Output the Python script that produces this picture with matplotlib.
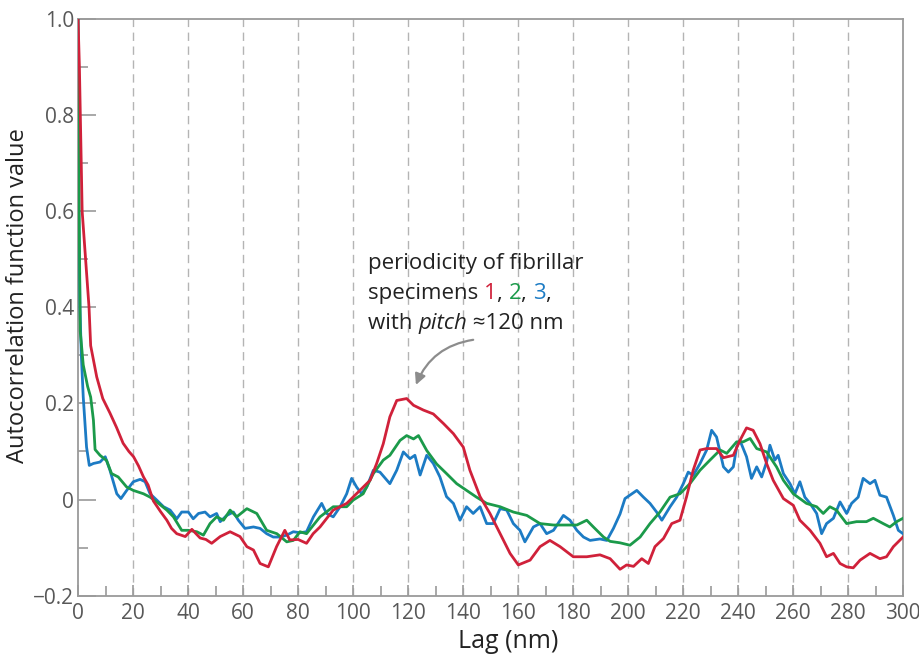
import numpy as np
import matplotlib
matplotlib.use("Agg")
import matplotlib.pyplot as plt
from matplotlib.offsetbox import TextArea, HPacker, VPacker, AnnotationBbox

plt.rcParams['font.family'] = ['Open Sans', 'DejaVu Sans']

# lag (nm) / autocorrelation values
red_x = [0, 0.5, 1, 1.5, 2.5, 4, 4.6, 6.8, 9, 11.6, 14, 16.4, 18.5, 20.2, 22, 23.8, 25.5, 27.4,
         30, 32.3, 34, 35.9, 39, 41.4, 44.4, 46.5, 48.6, 51.7, 55.3, 58.9, 61.4, 63.8, 66.2,
         69.2, 72.2, 75.2, 77, 80, 83.1, 85.5, 88, 92.8, 97.7, 102.5, 106.2, 108.6, 111,
         113.4, 115.9, 119.5, 122, 125.6, 129.2, 132.9, 136.5, 140.1, 142.5, 146.2, 149.8,
         153.5, 157.1, 160.1, 164.4, 168, 171.6, 175.3, 180.1, 185, 189.8, 193.5, 197.1,
         199.5, 202, 205, 207.4, 209.8, 212.9, 215.9, 218.9, 221.3, 223.7, 226.2, 228.6,
         232.2, 234.7, 238.3, 240.7, 243.1, 245.5, 248, 250.4, 252.8, 256.5, 260.1, 262.5,
         266.2, 269.8, 272.2, 274.7, 277.1, 279.5, 281.9, 284.4, 288, 291.6, 294, 296.5, 300]
red_y = [1.0, 0.9, 0.75, 0.6, 0.52, 0.40, 0.32, 0.255, 0.21, 0.18, 0.15, 0.117, 0.10, 0.089,
         0.07, 0.047, 0.03, -0.003, -0.025, -0.043, -0.06, -0.071, -0.077, -0.062, -0.08,
         -0.083, -0.091, -0.077, -0.067, -0.077, -0.098, -0.105, -0.133, -0.14, -0.098,
         -0.064, -0.084, -0.083, -0.091, -0.071, -0.057, -0.022, -0.008, 0.019, 0.040, 0.075,
         0.116, 0.172, 0.206, 0.210, 0.196, 0.186, 0.178, 0.158, 0.137, 0.109, 0.061, 0.006,
         -0.029, -0.071, -0.112, -0.136, -0.126, -0.098, -0.085, -0.098, -0.119, -0.119,
         -0.115, -0.123, -0.145, -0.136, -0.139, -0.123, -0.133, -0.098, -0.081, -0.050,
         -0.043, 0.006, 0.061, 0.103, 0.106, 0.106, 0.087, 0.092, 0.123, 0.149, 0.144, 0.116,
         0.075, 0.040, 0.002, -0.012, -0.043, -0.064, -0.091, -0.119, -0.112, -0.133, -0.140,
         -0.142, -0.126, -0.112, -0.123, -0.119, -0.098, -0.078]

green_x = [0, 0.4, 0.8, 1.9, 3.5, 4.6, 5.6, 6.2, 8, 10.4, 12.2, 14.6, 17.7, 20.1, 23.8, 26.2,
           28.6, 32.3, 34.7, 37.7, 40.1, 43.2, 45.6, 48, 50.4, 52.9, 55.3, 57.7, 61.4, 65,
           68.6, 72.3, 75.9, 78.3, 80.7, 83.1, 88, 92.8, 97.7, 100.1, 103.7, 107.4, 111,
           113.4, 117.1, 119.5, 122, 123.8, 126.8, 130.4, 134, 137.7, 141.3, 144.9, 148.6,
           153.5, 158.3, 163.2, 168, 172.9, 177.7, 181.4, 185, 187.4, 191.1, 193.5, 197.1,
           200.7, 204.4, 208, 211.6, 215.3, 218.9, 222.5, 226.2, 229.8, 233.5, 235.9, 239.5,
           241.9, 244.4, 246.8, 250.4, 254, 256.5, 260.1, 264.9, 268.6, 271, 273.4, 275.8,
           279.5, 283.1, 286.7, 289.2, 292.8, 295.2, 297.7, 300]
green_y = [1.0, 0.6, 0.35, 0.28, 0.235, 0.213, 0.165, 0.104, 0.092, 0.081, 0.054, 0.047,
           0.026, 0.019, 0.012, 0.005, -0.005, -0.022, -0.036, -0.064, -0.064, -0.067, -0.074,
           -0.050, -0.036, -0.043, -0.022, -0.036, -0.019, -0.029, -0.064, -0.071, -0.088,
           -0.085, -0.067, -0.071, -0.036, -0.015, -0.015, -0.001, 0.012, 0.054, 0.082, 0.092,
           0.123, 0.133, 0.126, 0.133, 0.102, 0.074, 0.054, 0.033, 0.019, 0.005, -0.008,
           -0.015, -0.026, -0.033, -0.050, -0.053, -0.053, -0.053, -0.043, -0.057, -0.078,
           -0.087, -0.09, -0.095, -0.078, -0.050, -0.026, 0.005, 0.012, 0.033, 0.061, 0.082,
           0.103, 0.096, 0.120, 0.120, 0.127, 0.106, 0.099, 0.068, 0.040, 0.012, -0.008,
           -0.015, -0.029, -0.015, -0.022, -0.050, -0.046, -0.046, -0.039, -0.050, -0.057,
           -0.046, -0.039]

blue_x = [0, 0.3, 0.7, 1.2, 1.9, 3.1, 4.1, 5.6, 8, 9.9, 11.6, 14.1, 15.6, 17.7, 20.1, 22.6,
          24.4, 26.2, 28.6, 31.1, 33.5, 35.9, 37.7, 40.1, 41.9, 43.8, 46.2, 48, 50.4, 51.7,
          54.1, 56.5, 58.3, 60.7, 63.8, 66.2, 68.6, 71, 73.5, 75.9, 78.3, 80.7, 83.1, 85.6,
          88.6, 90.4, 92.8, 95.3, 97.7, 99.5, 101.3, 103.1, 105, 107.4, 109.8, 113.4, 115.9,
          118.3, 120.7, 122.5, 124.4, 126.8, 129.2, 131.6, 134, 136.5, 138.9, 141.3, 143.7,
          146.2, 148.6, 151, 153.5, 155.9, 158.3, 160.7, 162.5, 165.6, 168, 170.4, 172.9,
          176.5, 178.9, 181.4, 183.8, 186.2, 189.8, 192.3, 194.7, 197.1, 198.9, 200.7, 203.2,
          205.6, 208, 210.4, 212.3, 215.3, 217.7, 220.1, 221.9, 223.7, 226.2, 228.6, 230.4,
          232.2, 234.7, 236.5, 238.3, 239.5, 240.7, 243.1, 244.9, 246.8, 248.6, 250.4, 251.6,
          253.4, 254.6, 256.5, 258.9, 260.7, 262.5, 264.3, 266.2, 268.6, 270.4, 272.2, 274.7,
          277.1, 279.5, 281.3, 283.7, 285.5, 288, 289.8, 291.6, 294, 296.5, 298.3, 300]
blue_y = [1.0, 0.6, 0.4, 0.3, 0.213, 0.109, 0.071, 0.075, 0.078, 0.089, 0.061, 0.012, 0.002,
          0.019, 0.037, 0.042, 0.037, 0.012, -0.001, -0.015, -0.022, -0.040, -0.026, -0.026,
          -0.040, -0.029, -0.026, -0.036, -0.029, -0.046, -0.033, -0.026, -0.043, -0.060,
          -0.057, -0.060, -0.071, -0.078, -0.078, -0.074, -0.067, -0.069, -0.067, -0.036,
          -0.008, -0.029, -0.036, -0.015, 0.012, 0.044, 0.026, 0.012, 0.026, 0.061, 0.057,
          0.033, 0.061, 0.099, 0.085, 0.092, 0.051, 0.092, 0.075, 0.047, 0.006, -0.008, -0.043,
          -0.015, -0.029, -0.015, -0.050, -0.050, -0.019, -0.022, -0.050, -0.064, -0.088,
          -0.057, -0.050, -0.071, -0.064, -0.033, -0.043, -0.064, -0.078, -0.085, -0.082,
          -0.085, -0.06, -0.03, 0.002, 0.009, 0.019, 0.005, -0.008, -0.026, -0.043, -0.015,
          0.005, 0.033, 0.057, 0.050, 0.075, 0.103, 0.144, 0.130, 0.068, 0.057, 0.068, 0.109,
          0.123, 0.089, 0.044, 0.068, 0.047, 0.078, 0.113, 0.082, 0.092, 0.054, 0.033, 0.012,
          0.037, 0.005, -0.008, -0.029, -0.071, -0.050, -0.039, -0.005, -0.029, -0.008, 0.005,
          0.044, 0.033, 0.040, 0.009, 0.005, -0.033, -0.064, -0.071]

x_ticks = [0, 20, 40, 60, 80, 100, 120, 140, 160, 180, 200, 220, 240, 260, 280, 300]
y_ticks = [-0.2, 0, 0.2, 0.4, 0.6, 0.8, 1.0]
y_tick_labels = ['\u22120.2', '0', '0.2', '0.4', '0.6', '0.8', '1.0']

red = '#d0213a'
green = '#1b9a4a'
blue = '#1c7bc4'
gray = '#9a9a9a'
tick_color = '#585858'

fig = plt.figure(figsize=(9.19, 6.65), dpi=100)
ax = fig.add_axes([0.0849, 0.1042, 0.8977, 0.8677])

ax.plot(blue_x, blue_y, color=blue, lw=2.0, zorder=3)
ax.plot(green_x, green_y, color=green, lw=2.0, zorder=4)
ax.plot(red_x, red_y, color=red, lw=2.0, zorder=5)

ax.set_xlim(0, 300)
ax.set_ylim(-0.2, 1.0)
ax.set_xticks(x_ticks)
ax.set_xticks(np.arange(10, 300, 20), minor=True)
ax.set_yticks(y_ticks)
ax.set_yticklabels(y_tick_labels)
ax.set_yticks(np.arange(-0.1, 1.0, 0.2), minor=True)

# vertical dashed grid
for xv in x_ticks[1:-1]:
    ax.axvline(xv, color='#b4b4b4', lw=1.0, ls=(0, (6, 4)), zorder=1)

for s in ax.spines.values():
    s.set_color(gray)
    s.set_linewidth(1.3)

ax.tick_params(axis='both', which='both', direction='in', color=gray, width=1.2,
               labelcolor=tick_color, labelsize=15)
ax.tick_params(axis='x', which='major', length=8, pad=5)
ax.tick_params(axis='x', which='minor', length=7)
ax.tick_params(axis='y', which='major', length=13, pad=3)
ax.tick_params(axis='y', which='minor', length=7)

ax.set_xlabel('Lag (nm)', fontsize=18, color='#222222')
ax.xaxis.set_label_coords(0.521, -0.058)
ax.set_ylabel('Autocorrelation function value', fontsize=17, color='#222222')
ax.yaxis.set_label_coords(-0.058, 0.521)

# annotation text with coloured specimen numbers
fs = 16
tp = dict(fontsize=fs, color='#222222')
line1 = HPacker(children=[TextArea('periodicity of fibrillar', textprops=tp)], pad=0, sep=0)
line2 = HPacker(children=[TextArea('specimens ', textprops=tp),
                          TextArea('1', textprops=dict(fontsize=fs, color=red)),
                          TextArea(', ', textprops=tp),
                          TextArea('2', textprops=dict(fontsize=fs, color=green)),
                          TextArea(', ', textprops=tp),
                          TextArea('3', textprops=dict(fontsize=fs, color=blue)),
                          TextArea(',', textprops=tp)], pad=0, sep=0)
line3 = HPacker(children=[TextArea('with ', textprops=tp),
                          TextArea('pitch', textprops=dict(fontsize=fs, color='#222222', style='italic')),
                          TextArea(' \u2248120 nm', textprops=tp)], pad=0, sep=0)
block = VPacker(children=[line1, line2, line3], pad=0, sep=6.5, align='left')
ab = AnnotationBbox(block, (105.5, 0.512), xycoords='data', box_alignment=(0, 1),
                    frameon=False, pad=0)
ax.add_artist(ab)

ax.annotate('', xy=(122.5, 0.233), xytext=(144.7, 0.333),
            arrowprops=dict(arrowstyle='-|>', color='#8c8c8c', lw=1.6,
                            connectionstyle='arc3,rad=0.3', mutation_scale=16))

fig.savefig('out.png', dpi=100)
